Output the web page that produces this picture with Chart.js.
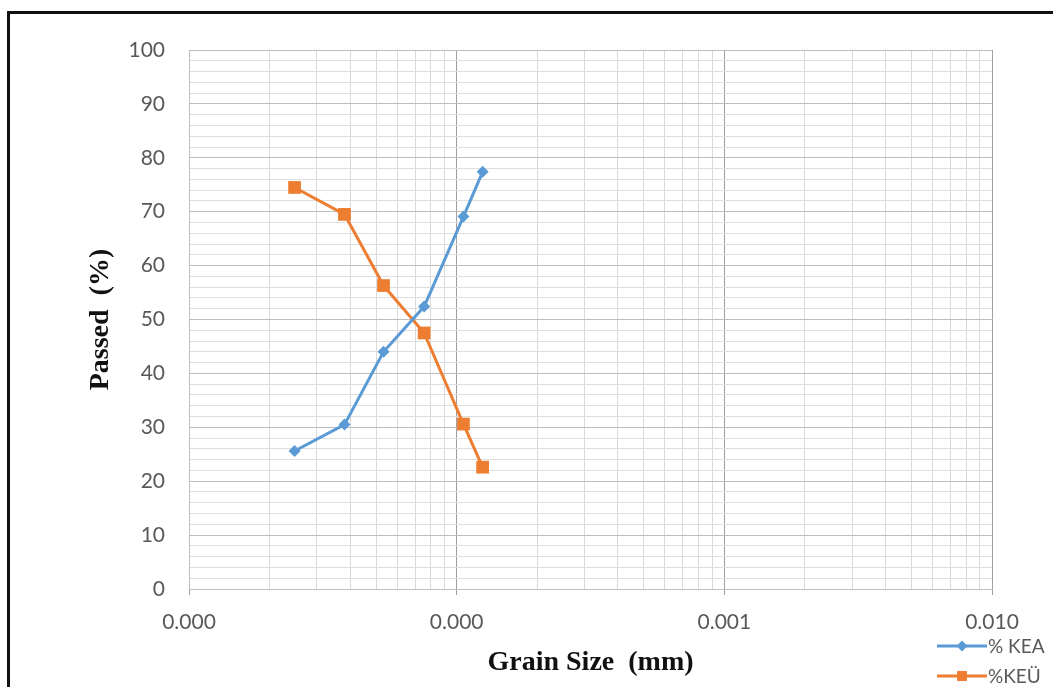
<!DOCTYPE html>
<html>
<head>
<meta charset="utf-8">
<script src="https://cdn.jsdelivr.net/npm/chart.js@4"></script>
<style>
  body { margin: 0; background: #fff; }
  #wrap { position: relative; width: 1053px; height: 687px; overflow: hidden; }
  #frame { position: absolute; left: 7px; top: 11px; width: 1100px; height: 700px;
           border-left: 3px solid #111; border-top: 3px solid #111; }
  canvas { position: absolute; left: 0; top: 0; }
</style>
</head>
<body>
<div id="wrap">
  <div id="frame"></div>
  <canvas id="myChart" width="1053" height="687"></canvas>
</div>
<script>
// Grain size (mm) and percent passed
const grainSize = [0.0000248, 0.0000381, 0.0000533, 0.0000756, 0.000106, 0.000125];
const passedKEA = [25.6, 30.5, 44.0, 52.4, 69.1, 77.4];
const grainSizeKEU = [0.0000248, 0.0000381, 0.0000533, 0.0000756, 0.000106, 0.000125];
const passedKEU = [74.5, 69.5, 56.3, 47.5, 30.6, 22.6];

// x axis decades and the labels printed under them
const xDecades = [0.00001, 0.0001, 0.001, 0.01];
const xTickLabels = ['0.000', '0.000', '0.001', '0.010'];

const tickFont = { family: 'Lato', size: 21 };
const titleFont = { family: 'Liberation Serif', size: 28, weight: 'bold' };

// little legend in the bottom right corner, like the original
const cornerLegend = {
    id: 'cornerLegend',
    afterDraw(chart) {
        const ctx = chart.ctx;
        const rows = [646, 676];
        const sizes = [5.5, 7];
        chart.data.datasets.forEach(function(ds, i) {
            const y = rows[i];
            ctx.save();
            ctx.strokeStyle = ds.borderColor;
            ctx.lineWidth = ds.borderWidth;
            ctx.beginPath();
            ctx.moveTo(937, y);
            ctx.lineTo(987, y);
            ctx.stroke();
            ctx.fillStyle = ds.backgroundColor;
            Chart.helpers.drawPoint(ctx, {
                pointStyle: ds.pointStyle,
                radius: sizes[i],
                borderWidth: 0,
                rotation: 0
            }, 962, y);
            ctx.fillStyle = '#595959';
            ctx.font = '19px Lato';
            ctx.textBaseline = 'middle';
            ctx.fillText(ds.label, 988, y + 1);
            ctx.restore();
        });
    }
};

function createChart() {
    const ctx = document.getElementById('myChart').getContext('2d');
    new Chart(ctx, {
        type: 'line',
        data: {
            datasets: [{
                label: '% KEA',
                data: grainSize.map((x, i) => ({ x: x, y: passedKEA[i] })),
                borderColor: '#5b9bd5',
                backgroundColor: '#5b9bd5',
                borderWidth: 3,
                pointStyle: 'rectRot',
                pointRadius: 6,
                pointBorderWidth: 0
            }, {
                label: '%KEÜ',
                data: grainSizeKEU.map((x, i) => ({ x: x, y: passedKEU[i] })),
                borderColor: '#ed7d31',
                backgroundColor: '#ed7d31',
                borderWidth: 3,
                pointStyle: 'rect',
                pointRadius: 9,
                pointBorderWidth: 0
            }]
        },
        options: {
            responsive: false,
            animation: false,
            layout: { padding: { left: 0, right: 61, top: 50, bottom: 0 } },
            plugins: { legend: { display: false }, tooltip: { enabled: false } },
            scales: {
                x: {
                    type: 'logarithmic',
                    min: xDecades[0],
                    max: xDecades[xDecades.length - 1],
                    afterFit: s => { s.height = 98; },
                    afterBuildTicks: s => {
                        const t = [];
                        xDecades.forEach((d, k) => {
                            t.push({ value: d, major: true });
                            if (k < xDecades.length - 1) {
                                for (let m = 2; m <= 9; m++) t.push({ value: d * m, major: false });
                            }
                        });
                        s.ticks = t;
                    },
                    ticks: {
                        autoSkip: false,
                        maxRotation: 0,
                        padding: 15,
                        color: '#595959',
                        font: tickFont,
                        callback: function(v) {
                            const k = xDecades.findIndex(d => Math.abs(d - v) < d * 1e-6);
                            return k >= 0 ? xTickLabels[k] : '';
                        }
                    },
                    grid: {
                        tickLength: 6,
                        color: c => (c.tick && c.tick.major ? '#a0a0a0' : '#dadada'),
                        tickColor: c => (c.tick && c.tick.major ? '#a0a0a0' : 'rgba(0,0,0,0)')
                    },
                    border: { color: '#bfbfbf' },
                    title: {
                        display: true,
                        text: 'Grain Size  (mm)',
                        color: '#111',
                        font: titleFont,
                        padding: { top: 0, bottom: 7 }
                    }
                },
                y: {
                    min: 0,
                    max: 100,
                    afterFit: s => { s.width = 189; },
                    ticks: {
                        stepSize: 2,
                        autoSkip: false,
                        padding: 24,
                        color: '#595959',
                        font: tickFont,
                        callback: v => (v % 10 === 0 ? v : '')
                    },
                    grid: {
                        drawTicks: false,
                        color: c => (c.tick && c.tick.value % 10 === 0 ? '#bdbdbd' : '#dedede')
                    },
                    border: { color: '#bfbfbf' },
                    title: {
                        display: true,
                        text: 'Passed  (%)',
                        color: '#111',
                        font: titleFont,
                        padding: { top: 84, bottom: 0 }
                    }
                }
            }
        },
        plugins: [cornerLegend]
    });
}

createChart();
</script>
</body>
</html>
